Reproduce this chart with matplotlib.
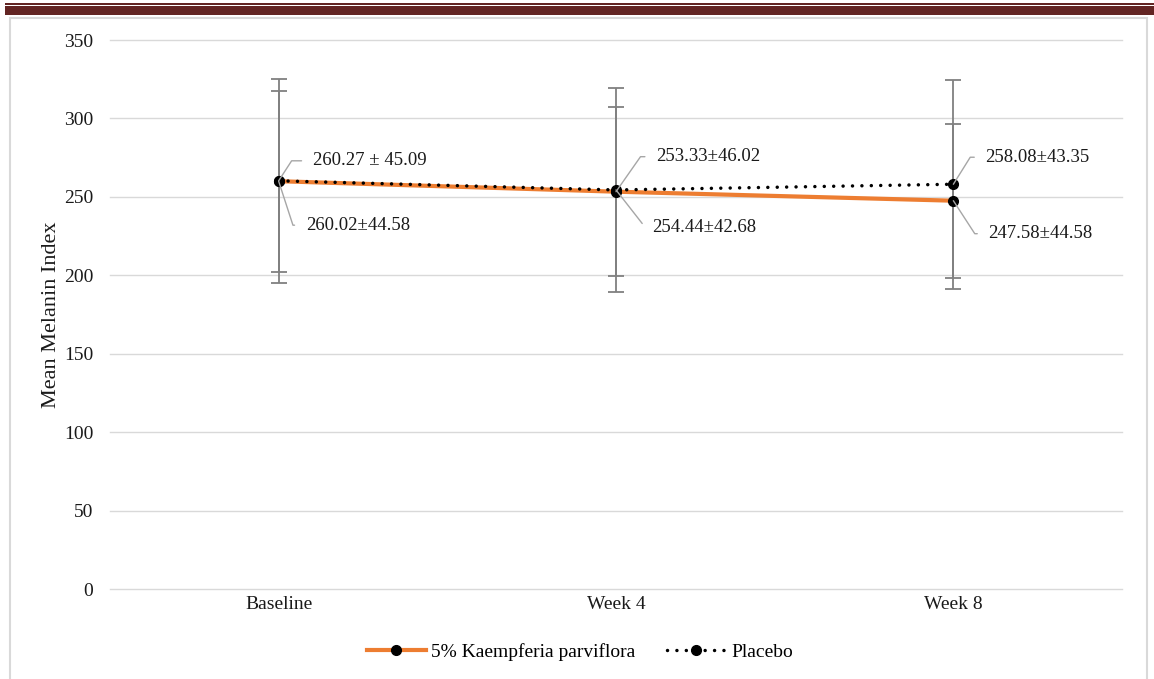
import matplotlib
matplotlib.use("Agg")
import matplotlib.pyplot as plt
from matplotlib.patches import Rectangle
from matplotlib.lines import Line2D

plt.rcParams['font.family'] = ['Liberation Serif', 'DejaVu Serif']

# 데이터
categories = ['Baseline', 'Week 4', 'Week 8']
kp_mean = [260.02, 253.33, 247.58]
placebo_mean = [260.27, 254.44, 258.08]
# 그림에 그려진 오차 막대 길이 (읽은 값)
kp_err = [57.6, 53.7, 49.1]
placebo_err = [65.0, 65.0, 66.6]
yticks = [0, 50, 100, 150, 200, 250, 300, 350]

# 라벨: (텍스트, 계열, 위치)
labels = [
    ('260.27 ± 45.09', 'placebo', 0),
    ('260.02±44.58', 'kp', 0),
    ('253.33±46.02', 'kp', 1),
    ('254.44±42.68', 'placebo', 1),
    ('258.08±43.35', 'placebo', 2),
    ('247.58±44.58', 'kp', 2),
]
# 라벨 오프셋 (픽셀) 과 지시선 각도
label_offsets = [(34, 20, 57), (27, -44, -72), (40, 35, 55),
                 (36, -38, -52), (32, 27, 58), (35, -33, -57)]

orange = '#ed7d31'
grid_c = '#d9d9d9'
err_c = '#808080'
text_c = '#1a1a1a'

fig = plt.figure(figsize=(11.54, 6.79), dpi=100)
ax = fig.add_axes([0.0953, 0.1325, 0.877, 0.8085])

x = list(range(len(categories)))

# 오차 막대
ax.errorbar(x, placebo_mean, yerr=placebo_err, fmt='none', ecolor=err_c,
            elinewidth=1.3, capsize=6, capthick=1.3, zorder=2)
ax.errorbar(x, kp_mean, yerr=kp_err, fmt='none', ecolor=err_c,
            elinewidth=1.3, capsize=6, capthick=1.3, zorder=2)

# 선
ax.plot(x, kp_mean, color=orange, lw=3, marker='o', ms=7,
        mfc='black', mec='black', zorder=3, solid_capstyle='butt')
ax.plot(x, placebo_mean, color='black', lw=2.5, dashes=(0.01, 2.7),
        dash_capstyle='round', marker='o', ms=7, mfc='black', mec='black', zorder=4)

# 데이터 라벨
for (txt, series, i), (dx, dy, ang) in zip(labels, label_offsets):
    yv = kp_mean[i] if series == 'kp' else placebo_mean[i]
    ax.annotate(txt, xy=(i, yv), xytext=(dx, dy), textcoords='offset pixels',
                ha='left', va='center', fontsize=13.5, color=text_c,
                arrowprops=dict(arrowstyle='-', color='#a6a6a6', lw=1,
                                connectionstyle=f'angle,angleA=0,angleB={ang},rad=0',
                                relpos=(0, 0.5), shrinkA=6, shrinkB=0),
                zorder=5)

ax.set_xlim(-0.5, 2.5)
ax.set_ylim(0, 350)
ax.set_yticks(yticks)
ax.set_xticks(x)
ax.set_xticklabels(categories)
ax.tick_params(axis='both', length=0, labelsize=14, colors=text_c)
ax.tick_params(axis='y', pad=12)
ax.tick_params(axis='x', pad=5)
ax.yaxis.grid(True, color=grid_c, lw=1)
for gl in ax.get_ygridlines():
    gl.set_clip_on(False)
ax.set_axisbelow(True)
for s in ax.spines.values():
    s.set_visible(False)
ax.set_ylabel('Mean Melanin Index', fontsize=16, color=text_c, labelpad=2)

# 범례
h1 = Line2D([], [], color=orange, lw=3, marker='o', ms=7, mfc='black', mec='black')
h2 = Line2D([], [], color='black', lw=2.5, dashes=(0.01, 2.7), dash_capstyle='round',
            marker='o', ms=7, mfc='black', mec='black')
fig.legend([h1, h2], ['5% Kaempferia parviflora', 'Placebo'], loc='center',
           bbox_to_anchor=(580 / 1154, 1 - 652 / 679), ncol=2, frameon=False,
           fontsize=14, handlelength=3, handletextpad=0.3, columnspacing=1.6)

# 차트 테두리와 상단 헤더
fig.patches.append(Rectangle((10 / 1154, -0.01), 1137 / 1154, 1 - 18 / 679 + 0.01,
                             transform=fig.transFigure, fill=False,
                             edgecolor=grid_c, lw=1.5))
fig.patches.append(Rectangle((5 / 1154, 1 - 15 / 679), 1, 9 / 679,
                             transform=fig.transFigure, color='#632523', lw=0))
fig.patches.append(Rectangle((5 / 1154, 1 - 4.5 / 679), 1, 1.6 / 679,
                             transform=fig.transFigure, color='#632523', lw=0))

fig.savefig('out.png', dpi=100)
